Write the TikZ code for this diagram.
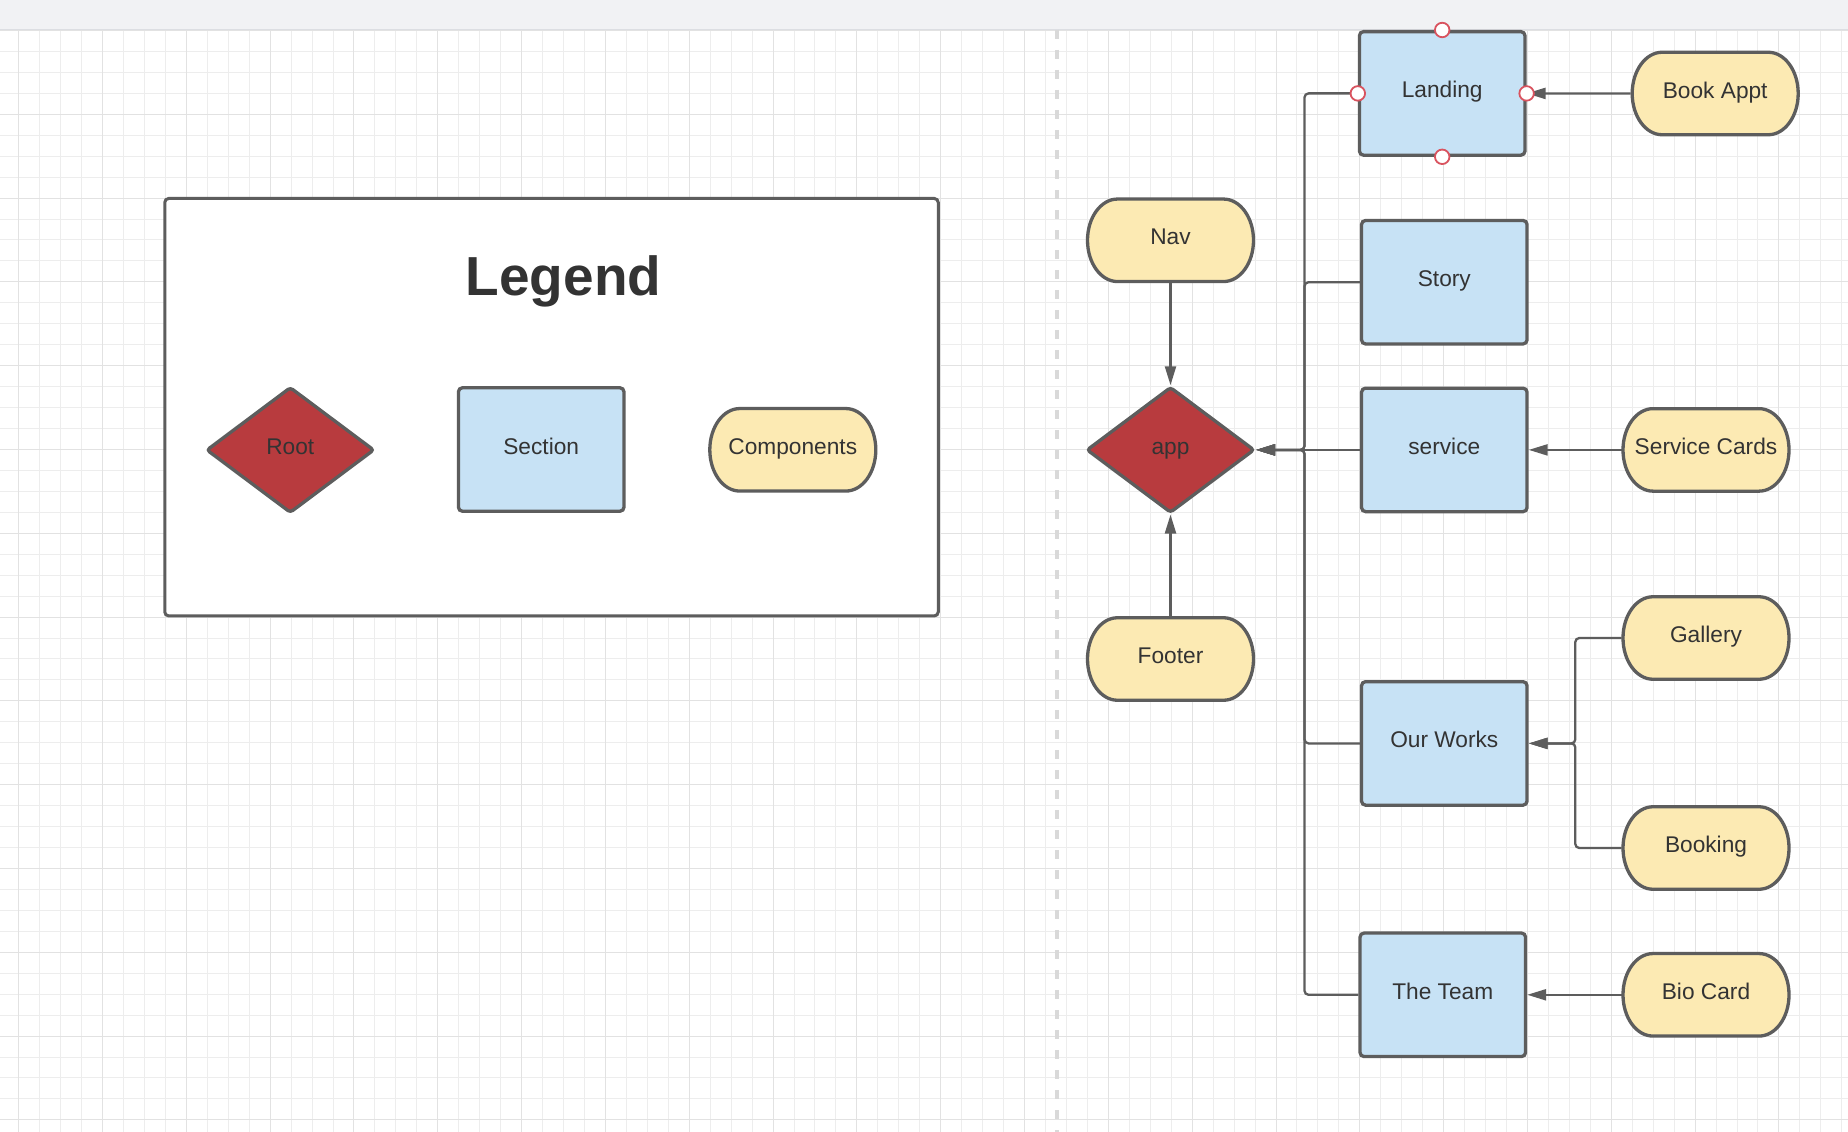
\documentclass[tikz,border=0pt]{standalone}
\usepackage{fontspec}
\setmainfont{Liberation Sans}
\usetikzlibrary{shapes.geometric,arrows.meta}
\definecolor{rootred}{HTML}{B83B3E}
\definecolor{secblue}{HTML}{C7E2F5}
\definecolor{compyel}{HTML}{FCEAB3}
\definecolor{edgegray}{HTML}{5D5D5D}
\definecolor{txtgray}{HTML}{333333}
\definecolor{gridminor}{HTML}{EDEDED}
\definecolor{gridmajor}{HTML}{E2E2E2}
\definecolor{headbg}{HTML}{F1F2F4}
\definecolor{headline}{HTML}{DCDEE2}
\definecolor{dashgray}{HTML}{D9D9D9}
\definecolor{ptred}{HTML}{D9535F}
\tikzset{
  lbl/.style={text=txtgray, font=\fontsize{22.7}{27}\selectfont, text height=15.9pt, text depth=6.8pt},
  sectionbox/.style={lbl, rectangle, draw=edgegray, fill=secblue, line width=3.3pt, rounded corners=4pt,
    minimum width=165.5pt, minimum height=123.5pt, inner sep=0pt},
  rootdiamond/.style={lbl, diamond, draw=edgegray, fill=rootred, line width=3.3pt, rounded corners=3pt,
    minimum width=168pt, minimum height=126pt, inner sep=0pt},
  termnode/.style={lbl, rectangle, minimum width=169pt, minimum height=85.5pt, inner sep=0pt, outer sep=0pt},
  termshape/.style={draw=edgegray, fill=compyel, line width=3.3pt},
  conn/.style={draw=edgegray, line width=2.3pt, rounded corners=4pt, -{Triangle[length=19pt,width=11pt]}},
  cpoint/.style={circle, draw=ptred, fill=white, line width=1.8pt, minimum size=14.5pt, inner sep=0pt},
  legendbox/.style={rectangle, draw=edgegray, fill=white, line width=3pt, rounded corners=4pt,
    minimum width=773.5pt, minimum height=417.5pt, inner sep=0pt},
  gminor/.style={gridminor, line width=1.1pt},
  gmajor/.style={gridmajor, line width=1.3pt},
}
\newcommand\termshape[1]{%
  \path[termshape, shift={(#1)}] (-53,-41.25) -- (53,-41.25)
    .. controls (69.6,-41.25) and (83,-22.8) .. (83,0)
    .. controls (83,22.8) and (69.6,41.25) .. (53,41.25) -- (-53,41.25)
    .. controls (-69.6,41.25) and (-83,22.8) .. (-83,0)
    .. controls (-83,-22.8) and (-69.6,-41.25) .. (-53,-41.25) -- cycle;}
\begin{document}
\begin{tikzpicture}[x=1pt,y=-1pt]
\useasboundingbox (0,0) rectangle (1848,1132);
\fill[white] (0,0) rectangle (1848,1132);
% grid
\begin{scope}
\clip (0,29.5) rectangle (1848,1132);
\foreach \i in {0,...,88} {\draw[gminor] ({int(18.7+20.955*\i)+0.5},29.5) -- ({int(18.7+20.955*\i)+0.5},1132);}
\foreach \j in {0,...,53} {\draw[gminor] (0,{int(30.5+20.95*\j)+0.5}) -- (1848,{int(30.5+20.95*\j)+0.5});}
\foreach \i in {0,...,22} {\draw[gmajor] ({int(18.7+83.82*\i)+0.5},29.5) -- ({int(18.7+83.82*\i)+0.5},1132);}
\foreach \j in {0,...,13} {\draw[gmajor] (0,{int(30.5+83.8*\j)+0.5}) -- (1848,{int(30.5+83.8*\j)+0.5});}
\end{scope}
% header bar
\fill[headbg] (0,0) rectangle (1848,29);
\draw[headline, line width=1.5pt] (0,29.3) -- (1848,29.3);
% page separator
\draw[dashgray, line width=3.5pt, dash pattern=on 9pt off 11pt] (1057,30) -- (1057,1132);

% legend
\node[legendbox] (legend) at (551.5,407.2) {};
\node[anchor=base, text=txtgray, font=\bfseries\fontsize{55}{60}\selectfont] (title) at (563.5,295.3) {Legend};
\node[rootdiamond] (root) at (290.3,450) {Root};
\node[sectionbox] (section) at (541.2,449.5) {Section};
\termshape{792.8,449.8}
\node[termnode] (components) at (792.8,449.8) {Components};

% main diagram
\node[rootdiamond] (app) at (1170.5,449.9) {app};
\node[sectionbox] (landing) at (1442.2,93.4) {Landing};
\node[sectionbox] (story) at (1444.3,282.2) {Story};
\node[sectionbox] (service) at (1444.3,449.9) {service};
\node[sectionbox] (ourworks) at (1444.3,743.4) {Our Works};
\node[sectionbox] (theteam) at (1442.8,994.8) {The Team};

\termshape{1170.5,240.3}
\node[termnode] (nav) at (1170.5,240.3) {Nav};
\termshape{1170.5,659}
\node[termnode] (footer) at (1170.5,659) {Footer};
\termshape{1715.2,93.5}
\node[termnode] (bookappt) at (1715.2,93.5) {Book Appt};
\termshape{1706,449.9}
\node[termnode] (servicecards) at (1706,449.9) {Service Cards};
\termshape{1706,638}
\node[termnode] (gallery) at (1706,638) {Gallery};
\termshape{1706,848}
\node[termnode] (booking) at (1706,848) {Booking};
\termshape{1706,994.8}
\node[termnode] (biocard) at (1706,994.8) {Bio Card};

\coordinate (bus) at (1304.5,0);
\coordinate (gbus) at (1575.3,0);

% connectors
\draw[conn] (nav.south) -- (app.north);
\draw[conn] (footer.north) -- (app.south);
\draw[conn] (service.west) -- (app.east);
\draw[conn] (landing.west) -| (bus |- app.east) -- (app.east);
\draw[conn] (story.west) -| (bus |- app.east) -- (app.east);
\draw[conn] (ourworks.west) -| (bus |- app.east) -- (app.east);
\draw[conn] (theteam.west) -| (bus |- app.east) -- (app.east);
\draw[conn] (bookappt.west) -- (landing.east);
\draw[conn] (servicecards.west) -- (service.east);
\draw[conn] (gallery.west) -| (gbus |- ourworks.east) -- (ourworks.east);
\draw[conn] (booking.west) -| (gbus |- ourworks.east) -- (ourworks.east);
\draw[conn] (biocard.west) -- (theteam.east);

% selection handles on Landing
\node[cpoint] (ptn) at (landing.north) {};
\node[cpoint] (pts) at (landing.south) {};
\node[cpoint] (ptw) at (landing.west) {};
\node[cpoint] (pte) at (landing.east) {};
\end{tikzpicture}
\end{document}
